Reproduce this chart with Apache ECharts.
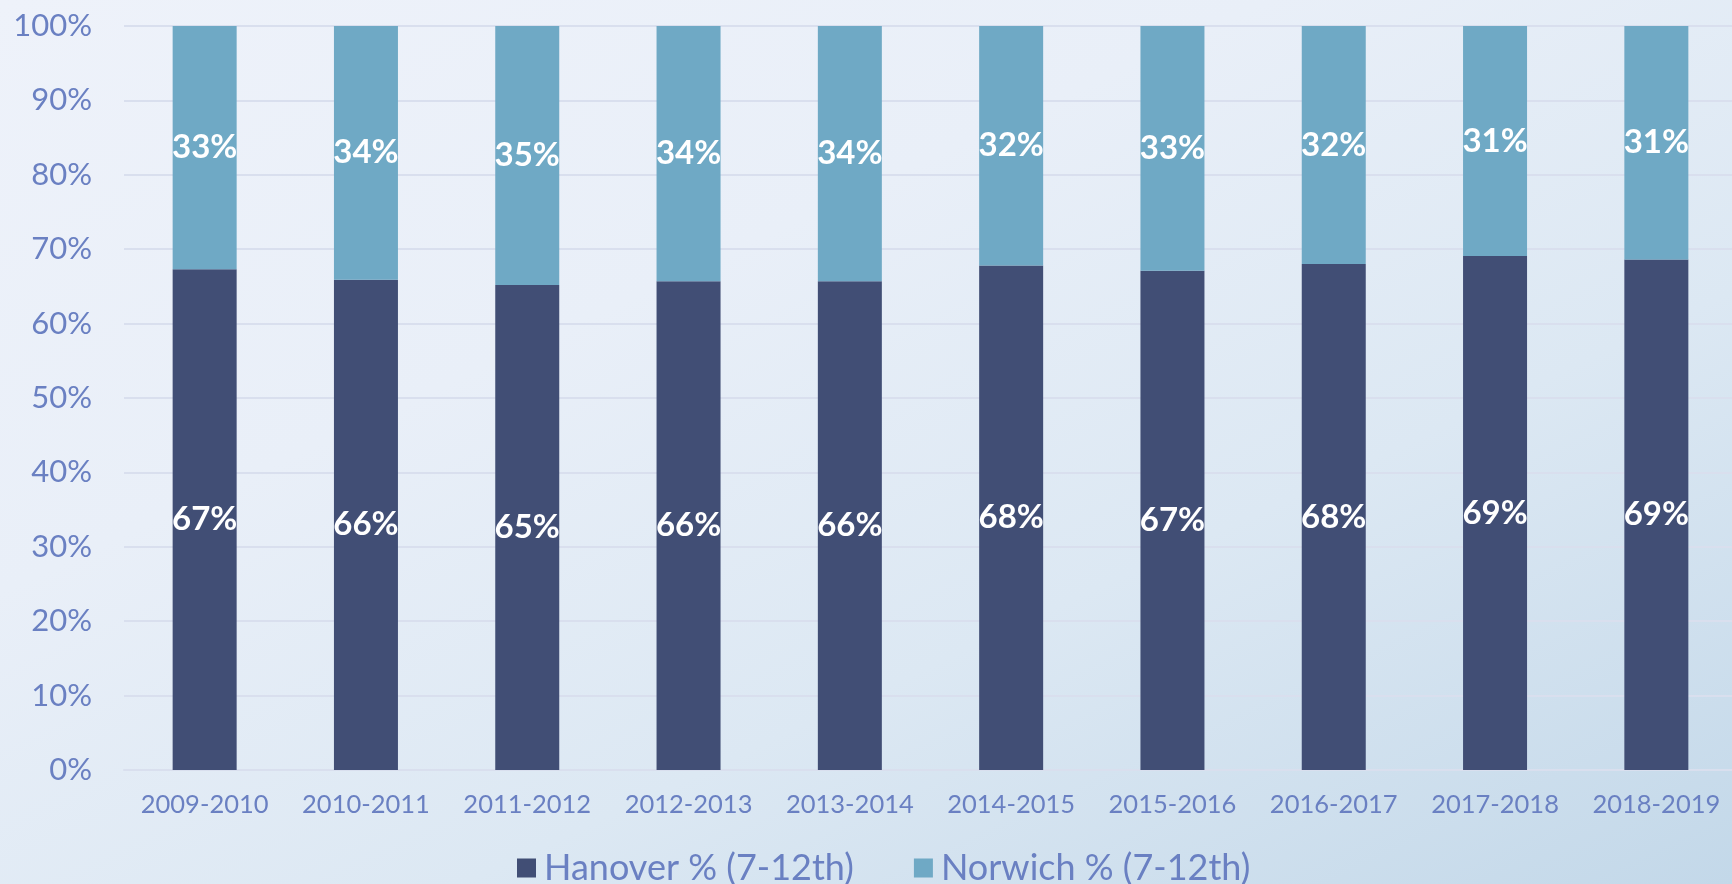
<!DOCTYPE html>
<html>
<head>
<meta charset="utf-8">
<script src="https://cdn.jsdelivr.net/npm/echarts@6/dist/echarts.min.js"></script>
<style>
  html, body { margin: 0; padding: 0; width: 1732px; height: 884px; overflow: hidden; }
  #wrap { width: 1732px; height: 884px; overflow: hidden; background: linear-gradient(155deg, #eef2fa 0%, #e9eff8 35%, #dce8f3 65%, #c3d8e9 100%); }
  #chart { width: 1744px; height: 884px; }
</style>
</head>
<body>
<div id="wrap"><div id="chart"></div></div>
<script>
const categories = ['2009-2010', '2010-2011', '2011-2012', '2012-2013', '2013-2014', '2014-2015', '2015-2016', '2016-2017', '2017-2018', '2018-2019'];
const hanover = [67.3, 65.9, 65.2, 65.7, 65.7, 67.8, 67.1, 68.0, 69.1, 68.6];
const norwich = [32.7, 34.1, 34.8, 34.3, 34.3, 32.2, 32.9, 32.0, 30.9, 31.4];
const seriesNames = ['Hanover % (7-12th)', 'Norwich % (7-12th)'];
const yTicks = [0, 10, 20, 30, 40, 50, 60, 70, 80, 90, 100];

const FONT = 'Lato, "Open Sans", sans-serif';
const axisColor = '#6a80c2';

const chart = echarts.init(document.getElementById('chart'), null, { renderer: 'canvas' });
const labelCfg = {
  show: true,
  position: 'inside',
  color: '#ffffff',
  fontFamily: FONT,
  fontWeight: 'bold',
  fontSize: 33,
  formatter: p => Math.round(p.value) + '%'
};
chart.setOption({
  backgroundColor: 'transparent',
  animation: false,
  grid: { left: 124, top: 26, width: 1613, height: 744, containLabel: false },
  legend: {
    left: 512,
    top: 845,
    itemWidth: 19,
    itemHeight: 19,
    itemGap: 60,
    icon: 'rect',
    textStyle: { color: axisColor, fontFamily: FONT, fontSize: 36, padding: [0, 0, 0, 3] },
    data: seriesNames
  },
  xAxis: {
    type: 'category',
    data: categories,
    axisLine: { show: true, lineStyle: { color: '#d9dfee', width: 2 } },
    axisTick: { show: false },
    axisLabel: { color: axisColor, fontFamily: FONT, fontSize: 25.5, margin: 22, interval: 0 }
  },
  yAxis: {
    type: 'value',
    min: 0,
    max: 100,
    interval: 10,
    axisLine: { show: false },
    axisTick: { show: false },
    splitLine: { lineStyle: { color: '#d9dfee', width: 2 } },
    axisLabel: {
      color: axisColor, fontFamily: FONT, fontSize: 31, margin: 32,
      formatter: v => (yTicks.includes(v) ? v + '%' : '')
    }
  },
  series: [
    {
      name: seriesNames[0], type: 'bar', stack: 'total', barWidth: 64,
      itemStyle: { color: '#414e75' },
      label: labelCfg,
      data: hanover
    },
    {
      name: seriesNames[1], type: 'bar', stack: 'total', barWidth: 64,
      itemStyle: { color: '#6fa9c5' },
      label: labelCfg,
      data: norwich
    }
  ]
});
</script>
</body>
</html>
